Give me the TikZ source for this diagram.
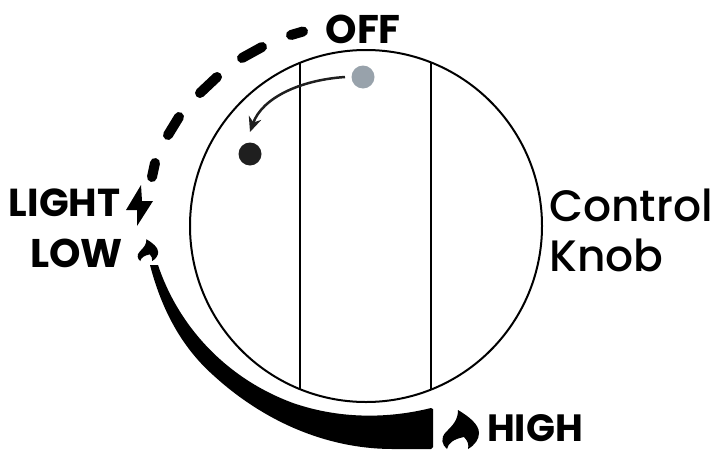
\documentclass[tikz,border=0pt]{standalone}
\usepackage{fontspec}
\setmainfont{Poppins}
\newfontfamily\medf{Poppins Medium}
\usetikzlibrary{arrows.meta}
\definecolor{dotgrey}{HTML}{98A2AB}
\tikzset{
 lab/.style={font=\fontsize{39}{40}\selectfont\bfseries,inner sep=0pt,text=black},
 big/.style={font=\fontsize{44}{50}\selectfont\medf,inner sep=0pt,text=black,align=left},
 dsh/.style={line width=10pt,line cap=round,black},
 dot/.style={circle,inner sep=0pt,minimum size=23pt},
 flame/.pic={\fill[black] (-1,-21) .. controls (-1,-11) and (-6,-6) .. (-13,1) .. controls (-19,7) and (-17,14) .. (-12,18)
   .. controls (-11,12) and (-5,8) .. (5,6) .. controls (9,10) and (10,14) .. (9,18)
   .. controls (16,14) and (20,8) .. (20,2) .. controls (20,-7) and (9,-15) .. (-1,-21) -- cycle;}
}
\begin{document}
\begin{tikzpicture}[x=1pt,y=-1pt]
\useasboundingbox (0,0) rectangle (714,450);
\node[draw=black,line width=2pt,circle,inner sep=0pt,minimum size=352pt] (knob) at (366,226) {};
\coordinate (t1) at (300,63); \coordinate (b1) at (300,389);
\coordinate (t2) at (431,63); \coordinate (b2) at (431,389);
\draw[black,line width=2pt] (t1) -- (b1);
\draw[black,line width=2pt] (t2) -- (b2);
\node[dot,fill=dotgrey] (grey) at (363,77) {};
\node[dot,fill=black!88] (blk) at (250,154) {};
\draw[black!88,line width=2.5pt,-{Stealth[length=15pt,width=13pt]}] (345,77) .. controls (300,80) and (262,98) .. (250,132);
% dashes
\coordinate (d1a) at (303,31.5); \coordinate (d1b) at (291,35);
\coordinate (d2a) at (262,47); \coordinate (d2b) at (242,58);
\coordinate (d3a) at (217,77); \coordinate (d3b) at (200,93);
\coordinate (d4a) at (179,117); \coordinate (d4b) at (168,135);
\coordinate (d5a) at (155,163); \coordinate (d5b) at (152,177);
\foreach \i in {1,...,5} \draw[dsh] (d\i a) -- (d\i b);
% band
\fill[black] (150,265) .. controls (163,315) and (185,350) .. (213,375) .. controls (262,420) and (325,449) .. (393,449)
  -- (431,449) -- (433,447) -- (433,409) -- (431,408) .. controls (395,417) and (345,421) .. (293,403)
  .. controls (225,378) and (178,325) .. (158,265) -- cycle;
% bolt
\fill[black] (141,185) -- (126,210) -- (137,210) -- (137,226) -- (153,201) -- (142,201) -- cycle;
\pic[scale=0.56] at (147,251) {flame};
\pic at (459,431) {flame};
\node[lab,anchor=east,font=\fontsize{40}{40}\selectfont\bfseries] (off) at (401,29) {OFF};
\node[lab,anchor=east] (light) at (120.5,203) {LIGHT};
\node[lab,anchor=east,font=\fontsize{40}{40}\selectfont\bfseries] (low) at (123,253) {LOW};
\node[lab,anchor=west,font=\fontsize{38}{40}\selectfont\bfseries] (high) at (487,428) {HIGH};
\node[big,anchor=west] (ck) at (549,230) {Control\\Knob};
\end{tikzpicture}
\end{document}
